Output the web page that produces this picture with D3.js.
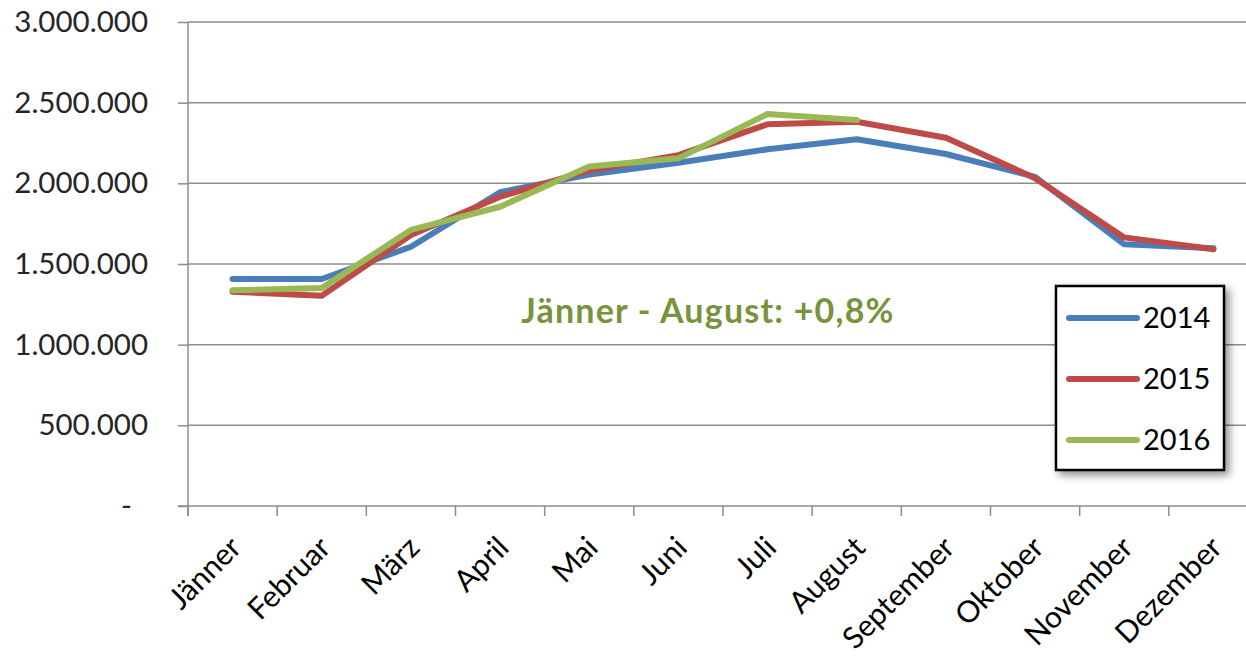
<!DOCTYPE html>
<html>
<head>
<meta charset="utf-8">
<script src="https://cdn.jsdelivr.net/npm/d3@7"></script>
<style>
  body { margin: 0; background: #fff; }
  svg { display: block; font-family: Lato, "Open Sans", sans-serif; }
</style>
</head>
<body>
<div id="chart"></div>
<script>
// months on the x axis
const months = ['Jänner', 'Februar', 'März', 'April', 'Mai', 'Juni', 'Juli',
    'August', 'September', 'Oktober', 'November', 'Dezember'];

// monthly values per year
const values2014 = [1407000, 1407000, 1607000, 1945000, 2055000, 2128000,
    2211000, 2273000, 2182000, 2040000, 1622000, 1597000];
const values2015 = [1328000, 1303000, 1680000, 1917000, 2080000, 2175000,
    2366000, 2382000, 2283000, 2032000, 1665000, 1591000];
const values2016 = [1337000, 1351000, 1711000, 1855000, 2105000, 2155000,
    2430000, 2392000];

const yTicks = [0, 500000, 1000000, 1500000, 2000000, 2500000, 3000000];
const years = ['2014', '2015', '2016'];
const note = 'Jänner - August: +0,8%';

const series = [
    { name: years[0], values: values2014, color: '#4A7EBB' },
    { name: years[1], values: values2015, color: '#BE4B48' },
    { name: years[2], values: values2016, color: '#98B954' }
];

const width = 1246, height = 656;
const plot = { left: 188, right: 1258, top: 22, bottom: 506 };

const svg = d3.select('#chart')
    .append('svg')
    .attr('width', width)
    .attr('height', height);

const x = d3.scaleBand(months, [plot.left, plot.right]);
const y = d3.scaleLinear([0, 3000000], [plot.bottom, plot.top]);

const de = d3.formatLocale({ decimal: ',', thousands: '.', grouping: [3], currency: ['', ''] });
const fmt = de.format(',');

// Gridlines
svg.append('g')
    .attr('class', 'grid')
    .selectAll('line')
    .data(yTicks.filter(d => d > 0))
    .enter()
    .append('line')
    .attr('x1', plot.left)
    .attr('x2', plot.right)
    .attr('y1', d => y(d))
    .attr('y2', d => y(d))
    .attr('stroke', '#8c8c8c')
    .attr('stroke-width', 1.5);

// Y axis
const yAxis = svg.append('g')
    .attr('transform', `translate(${plot.left},0)`)
    .call(d3.axisLeft(y).tickValues(yTicks).tickSize(10).tickPadding(30)
        .tickFormat(d => d === 0 ? '-' : fmt(d)));
yAxis.attr('font-family', null).attr('font-size', null);
yAxis.select('.domain').remove();
yAxis.selectAll('line').attr('stroke', '#8c8c8c').attr('stroke-width', 1.5);
yAxis.selectAll('text')
    .attr('fill', '#262626')
    .style('font-size', '29.5px')
    .attr('dx', d => d === 0 ? -16 : 0);

// axis lines
svg.append('line')
    .attr('x1', plot.left).attr('x2', plot.left)
    .attr('y1', plot.top).attr('y2', plot.bottom + 10)
    .attr('stroke', '#8c8c8c').attr('stroke-width', 1.5);
svg.append('line')
    .attr('x1', plot.left - 10).attr('x2', plot.right)
    .attr('y1', plot.bottom).attr('y2', plot.bottom)
    .attr('stroke', '#8c8c8c').attr('stroke-width', 1.5);

// X ticks at category boundaries
svg.append('g')
    .selectAll('line')
    .data(months)
    .enter()
    .append('line')
    .attr('x1', d => x(d)).attr('x2', d => x(d))
    .attr('y1', plot.bottom).attr('y2', plot.bottom + 10)
    .attr('stroke', '#8c8c8c').attr('stroke-width', 1.5);

// Month labels
svg.append('g')
    .selectAll('text')
    .data(months)
    .enter()
    .append('text')
    .attr('transform', d => `translate(${x(d) + x.bandwidth() / 2 + 3},${plot.bottom + 36}) rotate(-45)`)
    .attr('text-anchor', 'end')
    .attr('dy', '0.35em')
    .attr('fill', '#000')
    .style('font-size', '30px')
    .text(d => d);

// Lines
const line = d3.line()
    .x((d, i) => x(months[i]) + x.bandwidth() / 2)
    .y(d => y(d));

svg.append('g')
    .selectAll('path')
    .data(series)
    .enter()
    .append('path')
    .attr('d', d => line(d.values))
    .attr('fill', 'none')
    .attr('stroke', d => d.color)
    .attr('stroke-width', 6)
    .attr('stroke-linejoin', 'round')
    .attr('stroke-linecap', 'round');

// Annotation
svg.append('text')
    .attr('x', 708)
    .attr('y', 323)
    .attr('text-anchor', 'middle')
    .attr('fill', '#77933C')
    .style('font-size', '34px')
    .style('font-weight', 'bold')
    .style('letter-spacing', '1.2px')
    .text(note);

// Legend
const defs = svg.append('defs');
const shadow = defs.append('filter').attr('id', 'shadow')
    .attr('x', '-20%').attr('y', '-20%').attr('width', '150%').attr('height', '150%');
shadow.append('feDropShadow')
    .attr('dx', 4).attr('dy', 4).attr('stdDeviation', 4)
    .attr('flood-color', '#000').attr('flood-opacity', 0.45);

const legend = svg.append('g').attr('transform', 'translate(1056,286)');
legend.append('rect')
    .attr('width', 168)
    .attr('height', 184)
    .attr('fill', '#fff')
    .attr('stroke', '#000')
    .attr('stroke-width', 2.5)
    .attr('filter', 'url(#shadow)');

const rows = legend.selectAll('g.row')
    .data(series)
    .enter()
    .append('g')
    .attr('class', 'row')
    .attr('transform', (d, i) => `translate(0,${32 + i * 61})`);
rows.append('line')
    .attr('x1', 13).attr('x2', 81)
    .attr('stroke', d => d.color)
    .attr('stroke-width', 6)
    .attr('stroke-linecap', 'round');
rows.append('text')
    .attr('x', 87)
    .attr('dy', '0.35em')
    .attr('fill', '#000')
    .style('font-size', '29px')
    .text(d => d.name);
</script>
</body>
</html>
